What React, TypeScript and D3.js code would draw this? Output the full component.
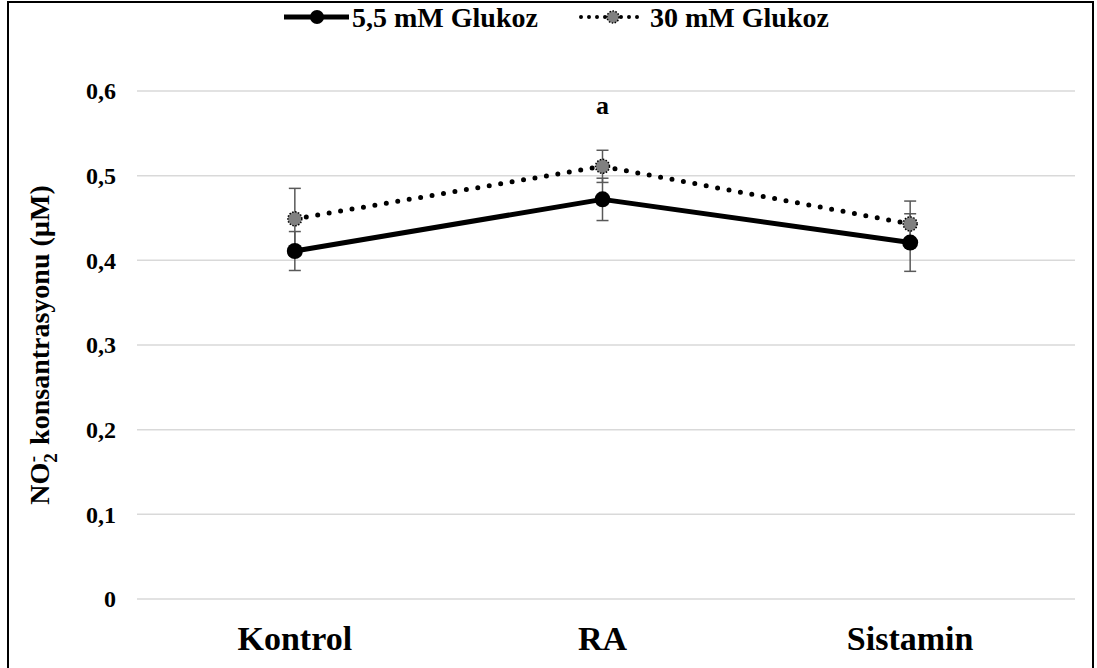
import React from "react";
import * as d3 from "d3";

const categories = ["Kontrol", "RA", "Sistamin"];
const seriesNames = ["5,5 mM Glukoz", "30 mM Glukoz"];
const glucose55 = [0.411, 0.472, 0.421];
const glucose55Err = [0.023, 0.025, 0.034];
const glucose30 = [0.449, 0.511, 0.443];
const glucose30Err = [0.036, 0.019, 0.027];
const yTicks = [0, 0.1, 0.2, 0.3, 0.4, 0.5, 0.6];
const annotations = [{ category: "RA", value: 0.583, text: "a" }];

const W = 1097;
const H = 668;
const FONT = "'Liberation Serif', 'Times New Roman', serif";

export default function App() {
  const x = d3.scaleBand().domain(categories).range([141, 1064]);
  const cx = (c: string) => (x(c) as number) + x.bandwidth() / 2;
  const y = d3.scaleLinear().domain([0, 0.6]).range([599, 91]);
  const gridX0 = 137;
  const gridX1 = 1075;

  const line = d3
    .line<[string, number]>()
    .x((d) => cx(d[0]))
    .y((d) => y(d[1]));

  const s55 = categories.map((c, i) => [c, glucose55[i]] as [string, number]);
  const s30 = categories.map((c, i) => [c, glucose30[i]] as [string, number]);

  const fmt = (v: number) => (v === 0 ? "0" : d3.format(".1f")(v).replace(".", ","));

  const errBars = (vals: number[], errs: number[], key: string) =>
    categories.map((c, i) => {
      const X = cx(c);
      const top = y(vals[i] + errs[i]);
      const bot = y(vals[i] - errs[i]);
      return (
        <g key={key + c} stroke="#595959" strokeWidth={1.5}>
          <line x1={X} x2={X} y1={top} y2={bot} />
          <line x1={X - 6} x2={X + 6} y1={top} y2={top} />
          <line x1={X - 6} x2={X + 6} y1={bot} y2={bot} />
        </g>
      );
    });

  return (
    <svg
      width={W}
      height={H}
      style={{ position: "absolute", left: 0, top: 0, background: "#fff" }}
      fontFamily={FONT}
    >
      <rect x={8} y={2} width={1085} height={H + 10} fill="#fff" stroke="#000" strokeWidth={2} />

      {yTicks.map((t) => (
        <g key={t}>
          <line x1={gridX0} x2={gridX1} y1={y(t)} y2={y(t)} stroke="#d9d9d9" strokeWidth={1.5} />
          <text x={116} y={y(t)} dy="0.35em" textAnchor="end" fontSize={24} fontWeight="bold">
            {fmt(t)}
          </text>
        </g>
      ))}

      {categories.map((c) => (
        <text key={c} x={cx(c)} y={638} dy="0.35em" textAnchor="middle" fontSize={34} fontWeight="bold">
          {c}
        </text>
      ))}

      <text
        transform={`translate(39, ${y(0.3)}) rotate(-90)`}
        textAnchor="middle"
        fontSize={28}
        fontWeight="bold"
        dy="0.35em"
      >
        NO<tspan fontSize={19} dy="8">2</tspan>
        <tspan fontSize={19} dx="-9" dy="-18">-</tspan>
        <tspan dy="10" dx="4"> konsantrasyonu (µM)</tspan>
      </text>

      {errBars(glucose30, glucose30Err, "e30")}
      {errBars(glucose55, glucose55Err, "e55")}

      <path d={line(s55) || ""} fill="none" stroke="#000" strokeWidth={5} strokeLinejoin="round" />
      <path
        d={line(s30) || ""}
        fill="none"
        stroke="#000"
        strokeWidth={5}
        strokeLinecap="round"
        strokeDasharray="0 11.6"
      />

      {s30.map((d) => (
        <circle key={"m30" + d[0]} cx={cx(d[0])} cy={y(d[1])} r={7} fill="#808080" stroke="#000" strokeWidth={1.5} strokeDasharray="1.5 1.5" />
      ))}
      {s55.map((d) => (
        <circle key={"m55" + d[0]} cx={cx(d[0])} cy={y(d[1])} r={8} fill="#000" />
      ))}

      {annotations.map((a) => (
        <text key={a.text} x={cx(a.category)} y={y(a.value)} dy="0.35em" textAnchor="middle" fontSize={26} fontWeight="bold">
          {a.text}
        </text>
      ))}

      {/* legend */}
      <g>
        <line x1={284} x2={349} y1={17} y2={17} stroke="#000" strokeWidth={5} />
        <circle cx={317} cy={17} r={7} fill="#000" />
        <text x={352} y={17} dy="0.35em" fontSize={28} fontWeight="bold">
          {seriesNames[0]}
        </text>
        <line x1={581} x2={642} y1={17} y2={17} stroke="#000" strokeWidth={4} strokeLinecap="round" strokeDasharray="0 8" />
        <circle cx={613} cy={17} r={6} fill="#808080" stroke="#000" strokeWidth={1.5} strokeDasharray="1.5 1.5" />
        <text x={650} y={17} dy="0.35em" fontSize={28} fontWeight="bold">
          {seriesNames[1]}
        </text>
      </g>
    </svg>
  );
}
